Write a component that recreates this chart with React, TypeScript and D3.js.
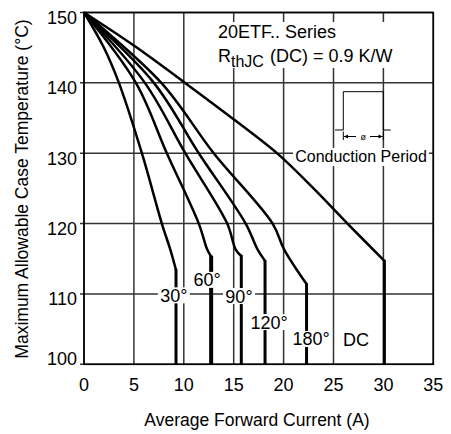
import React from "react";
import * as d3 from "d3";

const xTicks = [0, 5, 10, 15, 20, 25, 30, 35];
const yTicks = [100, 110, 120, 130, 140, 150];

const seriesNames = ["30°", "60°", "90°", "120°", "180°", "DC"];
const curve30: [number, number][] = [[0, 150], [2.0, 145], [3.5, 140], [5.8, 130], [7.8, 120], [8.65, 116.3], [9.22, 113.4]];
const curve60: [number, number][] = [[0, 150], [5.2, 140], [8.3, 130], [11.5, 120], [12.35, 116.3], [12.74, 115.3]];
const curve90: [number, number][] = [[0, 150], [6.1, 140], [10.15, 130], [14.35, 120], [15.2, 116.3], [15.76, 115.4]];
const curve120: [number, number][] = [[0, 150], [7.0, 140], [11.5, 130], [16.2, 120], [17.4, 116.3], [18.14, 114.7]];
const curve180: [number, number][] = [[0, 150], [7.75, 140], [13.0, 130], [18.9, 120], [20.06, 116.3], [22.3, 111.4]];
const curveDC: [number, number][] = [[0, 150], [5, 145.3], [10.5, 139.6], [15.2, 134.6], [19.5, 129.8], [23, 125.0], [26.4, 120], [30.1, 114.7]];
const allCurves = [curve30, curve60, curve90, curve120, curve180, curveDC];

// label anchor positions (data units), layout only
const labelAt: [number, number][] = [[9.0, 109.8], [12.33, 112.0], [15.53, 109.7], [18.54, 106.0], [22.75, 103.6], [27.25, 103.5]];
const verticalWidth = [3, 4, 3, 3, 3, 3];

const W = 451, H = 434;
const FONT = "'Liberation Sans', Arial, Helvetica, sans-serif";

export default function App() {
  const x = d3.scaleLinear().domain([0, 35]).range([84, 433.3]);
  const y = d3.scaleLinear().domain([100, 150]).range([364.3, 12.5]);
  const line = d3
    .line<[number, number]>()
    .x((d) => x(d[0]))
    .y((d) => y(d[1]))
    .curve(d3.curveCatmullRom.alpha(0.5));

  const gridColor = "#333";
  return (
    <svg width={W} height={H} style={{ position: "absolute", left: 0, top: 0, background: "#fff" }} fontFamily={FONT}>
      <rect x={0} y={0} width={W} height={H} fill="#fff" />
      {/* grid */}
      {xTicks.map((t) => (
        <line key={"gx" + t} x1={x(t)} x2={x(t)} y1={y(150)} y2={y(100)} stroke={gridColor} strokeWidth={1.5} />
      ))}
      {yTicks.map((t) => (
        <line key={"gy" + t} x1={x(0) - 4} x2={x(35)} y1={y(t)} y2={y(t)} stroke={gridColor} strokeWidth={1.5} />
      ))}
      {/* frame */}
      <rect x={x(0)} y={y(150)} width={x(35) - x(0)} height={y(100) - y(150)} fill="none" stroke="#000" strokeWidth={1.6} />

      {/* annotation boxes */}
      <rect x={214} y={22} width={188} height={46} fill="#fff" />
      <text x={218} y={38} fontSize={18} fill="#000">20ETF.. Series</text>
      <text x={218} y={62} fontSize={18} fill="#000">
        R<tspan fontSize={16} dy={5}>thJC</tspan>
        <tspan dy={-5} dx={6}>(DC) = 0.9 K/W</tspan>
      </text>

      {/* pulse waveform */}
      <path d="M335,130 H343.3 V91.7 H383.3 V130 H390.7" fill="none" stroke="#000" strokeWidth={1} />
      <line x1={343.3} x2={343.3} y1={131.5} y2={140} stroke="#000" strokeWidth={1} />
      <line x1={383.3} x2={383.3} y1={131.5} y2={140} stroke="#000" strokeWidth={1} />
      <line x1={344} x2={356} y1={136.5} y2={136.5} stroke="#000" strokeWidth={1} />
      <path d="M344,136.5 l4,-2 v4 z" fill="#000" />
      <line x1={370} x2={382.5} y1={136.5} y2={136.5} stroke="#000" strokeWidth={1} />
      <path d="M382.5,136.5 l-4,-2 v4 z" fill="#000" />
      <text x={363.3} y={139.5} fontSize={9} textAnchor="middle" fill="#000">ø</text>

      <rect x={293} y={148} width={136} height={18} fill="#fff" />
      <text x={361} y={162} fontSize={16} textAnchor="middle" fill="#000">Conduction Period</text>

      {/* curves */}
      {allCurves.map((c, i) => {
        const knee = c[c.length - 1];
        return (
          <g key={"c" + i}>
            <path d={line(c) || ""} fill="none" stroke="#000" strokeWidth={2.5} strokeLinejoin="round" />
            <line x1={x(knee[0])} x2={x(knee[0])} y1={y(knee[1]) - 1} y2={y(100)} stroke="#000" strokeWidth={verticalWidth[i]} />
          </g>
        );
      })}

      {/* curve labels */}
      {seriesNames.map((n, i) => {
        const cx = x(labelAt[i][0]);
        const cy = y(labelAt[i][1]);
        const w = n.length * 10 + 2;
        return (
          <g key={"l" + n}>
            <rect x={cx - w / 2} y={cy - 8} width={w} height={16} fill="#fff" />
            <text x={cx} y={cy + 6.5} fontSize={18} textAnchor="middle" fill="#000">{n}</text>
          </g>
        );
      })}

      {/* tick labels */}
      {yTicks.map((t) => (
        <text key={"ty" + t} x={77} y={y(t) + (t === 100 ? 1 : 11.5)} fontSize={18} textAnchor="end" fill="#000">
          {t}
        </text>
      ))}
      {xTicks.map((t) => (
        <text key={"tx" + t} x={x(t)} y={391} fontSize={18} textAnchor="middle" fill="#000">
          {t}
        </text>
      ))}

      <text x={257} y={426} fontSize={17.5} textAnchor="middle" fill="#000">Average Forward Current (A)</text>
      <text transform={`translate(28,189) rotate(-90)`} fontSize={17.5} textAnchor="middle" fill="#000">
        Maximum Allowable Case Temperature (°C)
      </text>
    </svg>
  );
}
